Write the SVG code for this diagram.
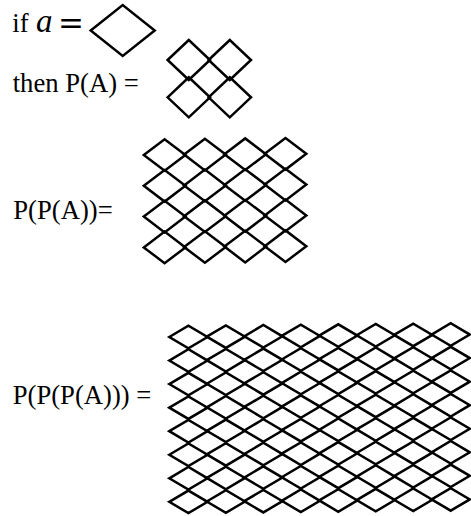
<svg xmlns="http://www.w3.org/2000/svg" xmlns:xlink="http://www.w3.org/1999/xlink" width="471" height="516" viewBox="0 0 471 516">
<style>
.t{font-family:"Liberation Serif","Times New Roman",serif;font-size:26.67px;fill:#000}
.m{font-family:"Liberation Serif","Times New Roman",serif;font-style:italic;font-size:33px;fill:#000}
.eq{font-family:"DejaVu Serif",serif;font-size:31px;fill:#000}
.d{fill:none;stroke:#000;stroke-width:2.5;stroke-linejoin:miter}
</style>
<defs>
<path id="d1" class="d" d="M-32,0 L0,-25.5 L32,0 L0,25.5 Z"/>
<path id="d2" class="d" d="M-21.2,0 L0,-20 L21.2,0 L0,20 Z"/>
<path id="d4" class="d" d="M-20.8,0 L0,-15.8 L20.8,0 L0,15.8 Z"/>
<path id="d8" class="d" d="M-19.1,0 L0,-11.3 L19.1,0 L0,11.3 Z"/>
</defs>
<rect width="471" height="516" fill="#fff"/>
<g id="label-a">
<text x="12.3" y="31.7"><tspan class="t">if </tspan><tspan class="m" x="36">a</tspan><tspan class="eq" x="58" y="33.5">=</tspan></text>
</g>
<g id="label-pa"><text class="t" x="12.7" y="91.7">then P(A) =</text></g>
<g id="label-ppa"><text class="t" x="13.3" y="219.3">P(P(A))=</text></g>
<g id="label-pppa"><text class="t" x="12.7" y="404.3">P(P(P(A))) =</text></g>
<g id="set-a">
<use xlink:href="#d1" x="122.7" y="30.5"/>
</g>
<g id="set-pa">
<use xlink:href="#d2" x="188.8" y="60"/>
<use xlink:href="#d2" x="229.8" y="60"/>
<use xlink:href="#d2" x="188.8" y="97.3"/>
<use xlink:href="#d2" x="229.8" y="97.3"/>
</g>
<g id="set-ppa">
<use xlink:href="#d4" x="164.6" y="155"/>
<use xlink:href="#d4" x="204.9" y="154.6"/>
<use xlink:href="#d4" x="245.2" y="154.2"/>
<use xlink:href="#d4" x="285.5" y="153.8"/>
<use xlink:href="#d4" x="164.6" y="185.8"/>
<use xlink:href="#d4" x="204.9" y="185.4"/>
<use xlink:href="#d4" x="245.2" y="185"/>
<use xlink:href="#d4" x="285.5" y="184.6"/>
<use xlink:href="#d4" x="164.6" y="216.6"/>
<use xlink:href="#d4" x="204.9" y="216.2"/>
<use xlink:href="#d4" x="245.2" y="215.8"/>
<use xlink:href="#d4" x="285.5" y="215.4"/>
<use xlink:href="#d4" x="164.6" y="247.4"/>
<use xlink:href="#d4" x="204.9" y="247"/>
<use xlink:href="#d4" x="245.2" y="246.6"/>
<use xlink:href="#d4" x="285.5" y="246.2"/>
</g>
<g id="set-pppa">
<g transform="translate(188.4,337)">
<g id="row8">
<use xlink:href="#d8" x="0" y="0"/>
<use xlink:href="#d8" x="37.47" y="-0.35"/>
<use xlink:href="#d8" x="74.94" y="-0.7"/>
<use xlink:href="#d8" x="112.41" y="-1.05"/>
<use xlink:href="#d8" x="149.88" y="-1.4"/>
<use xlink:href="#d8" x="187.35" y="-1.75"/>
<use xlink:href="#d8" x="224.82" y="-2.1"/>
<use xlink:href="#d8" x="262.29" y="-2.45"/>
</g>
<use xlink:href="#row8" y="23.55"/>
<use xlink:href="#row8" y="47.1"/>
<use xlink:href="#row8" y="70.65"/>
<use xlink:href="#row8" y="94.2"/>
<use xlink:href="#row8" y="117.75"/>
<use xlink:href="#row8" y="141.3"/>
<use xlink:href="#row8" y="164.85"/>
</g>
</g>
</svg>
